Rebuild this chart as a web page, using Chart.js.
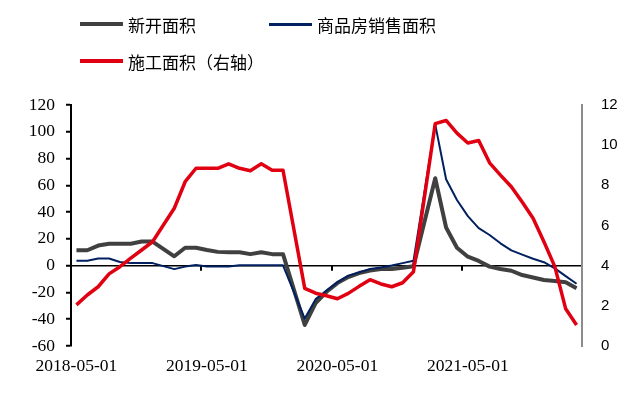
<!DOCTYPE html>
<html>
<head>
<meta charset="utf-8">
<script src="https://cdn.jsdelivr.net/npm/chart.js@4.4.0/dist/chart.umd.min.js"></script>
<style>
  body { margin: 0; background: #fff; }
  .wrap { position: relative; width: 641px; height: 396px; }
  .item {
    position: absolute; height: 24px; display: flex; align-items: center;
    font-family: "Noto Sans CJK SC", sans-serif; font-size: 17px; color: #000;
    white-space: nowrap;
  }
  .swatch { width: 43px; margin-right: 5px; }
</style>
</head>
<body>
<div class="wrap">
  <canvas id="chart" width="641" height="396"></canvas>
  <div class="item" style="left:80px; top:12px;"><span class="swatch" style="height:4.5px; background:#404040;"></span>新开面积</div>
  <div class="item" style="left:269px; top:12px;"><span class="swatch" style="height:3px; background:#002060;"></span>商品房销售面积</div>
  <div class="item" style="left:80px; top:49px;"><span class="swatch" style="height:4.5px; background:#e00012;"></span>施工面积（右轴）</div>
</div>
<script>
const months = [
  "2018-05-01", "2018-06-01", "2018-07-01", "2018-08-01", "2018-09-01", "2018-10-01",
  "2018-11-01", "2018-12-01", "2019-01-01", "2019-02-01", "2019-03-01", "2019-04-01",
  "2019-05-01", "2019-06-01", "2019-07-01", "2019-08-01", "2019-09-01", "2019-10-01",
  "2019-11-01", "2019-12-01", "2020-01-01", "2020-02-01", "2020-03-01", "2020-04-01",
  "2020-05-01", "2020-06-01", "2020-07-01", "2020-08-01", "2020-09-01", "2020-10-01",
  "2020-11-01", "2020-12-01", "2021-01-01", "2021-02-01", "2021-03-01", "2021-04-01",
  "2021-05-01", "2021-06-01", "2021-07-01", "2021-08-01", "2021-09-01", "2021-10-01",
  "2021-11-01", "2021-12-01", "2022-01-01", "2022-02-01", "2022-03-01"
];

// 新开面积 (left axis, %)
const newStarts = [
  11.5, 11.5, 15, 16.4, 16.4, 16.4, 18, 18, null, 7, 13.4, 13.4,
  11.7, 10.3, 10, 10, 8.6, 10, 8.6, 8.6, null, -44.3, -28, -19.5,
  -13, -8.5, -5.5, -3.7, -2.5, -2.5, -1.5, -0.5, null, 65.3, 28.5, 13.4,
  6.7, 3.5, -0.7, -2.5, -3.8, -7, -8.8, -10.7, -11.4, -12.4, -16.9
];

// 商品房销售面积 (left axis, %)
const sales = [
  3.6, 3.6, 5.3, 5.3, 2.7, 1.9, 1.9, 1.9, null, -2.6, -0.7, 0.5,
  -0.7, -0.7, -0.7, 0.3, 0.3, 0.3, 0.3, 0.3, null, -39.5, -25, -18.5,
  -12.5, -7.5, -5, -2.5, -1.3, 0.2, 1.9, 3.6, null, 105.5, 64.5, 49,
  37, 28, 22.9, 16.7, 11.4, 8.2, 5.2, 2.6, -2, -7.8, -13.5
];

// 施工面积 (right axis, %)
const underConstruction = [
  2.05, 2.54, 2.95, 3.59, 3.95, 4.37, 4.78, 5.19, null, 6.86, 8.18, 8.85,
  8.85, 8.85, 9.07, 8.85, 8.73, 9.07, 8.75, 8.75, null, 2.87, 2.63, 2.5,
  2.35, 2.62, 2.97, 3.3, 3.09, 2.95, 3.15, 3.7, null, 11.07, 11.23, 10.6,
  10.11, 10.23, 9.12, 8.51, 7.93, 7.17, 6.36, 5.19, 3.95, 1.85, 1.05
];

const yearTicks = [11.5, 23.5, 35.5];

// small tick marks on the zero line between years
const zeroTicks = {
  id: "zeroTicks",
  beforeDatasetsDraw(chart) {
    const c = chart.ctx;
    const x = chart.scales.x;
    const y0 = chart.scales.y.getPixelForValue(0);
    c.save();
    c.strokeStyle = "#000";
    c.lineWidth = 2;
    yearTicks.forEach((v) => {
      const px = Math.round(x.getPixelForValue(v));
      c.beginPath();
      c.moveTo(px, y0);
      c.lineTo(px, y0 + 5);
      c.stroke();
    });
    c.restore();
  },
};

const serif = { family: "'Liberation Serif', 'Times New Roman', serif", size: 17.5 };

new Chart(document.getElementById("chart"), {
  type: "line",
  data: {
    labels: months,
    datasets: [
      { label: "新开面积", data: newStarts, borderColor: "#404040", borderWidth: 4, yAxisID: "y", order: 3 },
      { label: "商品房销售面积", data: sales, borderColor: "#002060", borderWidth: 2, yAxisID: "y", order: 2 },
      { label: "施工面积（右轴）", data: underConstruction, borderColor: "#e00012", borderWidth: 3.5, yAxisID: "y1", order: 1 },
    ],
  },
  options: {
    animation: false,
    responsive: false,
    spanGaps: true,
    elements: {
      point: { radius: 0 },
      line: { tension: 0, borderJoinStyle: "round" },
    },
    layout: { padding: { top: 105, left: 0, right: 0, bottom: 0 } },
    plugins: { legend: { display: false }, tooltip: { enabled: false } },
    scales: {
      x: {
        offset: true,
        grid: { display: false, drawTicks: false },
        border: { display: false },
        ticks: {
          autoSkip: false,
          maxRotation: 0,
          padding: 10,
          color: "#000",
          font: serif,
          callback: (v, i) => (i % 12 === 0 ? months[i] : ""),
        },
        afterFit: (s) => { s.height = 50; },
      },
      y: {
        position: "left",
        min: -60,
        max: 120,
        ticks: { stepSize: 20, color: "#000", font: serif, padding: 11 },
        grid: {
          color: (c) => (c.tick.value === 0 ? "#000" : "transparent"),
          lineWidth: 1.5,
          tickColor: "#000",
          tickLength: 5,
          tickWidth: 2,
        },
        border: { display: true, color: "#000", width: 2 },
        afterFit: (s) => { s.width = 71; },
      },
      y1: {
        position: "right",
        min: 0,
        max: 12,
        ticks: {
          stepSize: 2,
          color: "#000",
          padding: 19,
          font: { family: "'Liberation Sans', Arial, sans-serif", size: 15 },
        },
        grid: { display: false, drawTicks: false },
        border: { display: true, color: "#8c8c8c", width: 2 },
        afterFit: (s) => { s.width = 59; },
      },
    },
  },
  plugins: [zeroTicks],
});
</script>
</body>
</html>
